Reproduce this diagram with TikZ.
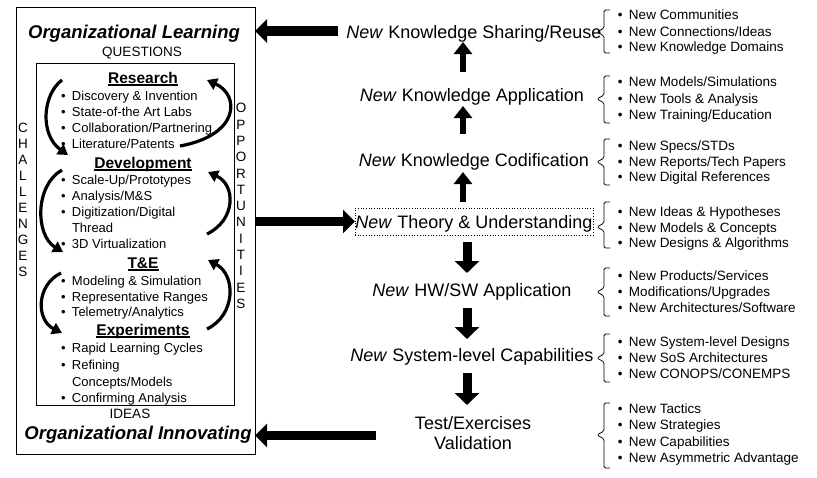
\documentclass[tikz,border=0pt]{standalone}
\usepackage{fontspec}
\setmainfont{Liberation Sans}
\usetikzlibrary{arrows.meta}
\newcommand\litem[3]{\node[litem] (#1) at (72,#2) {\llap{•\hspace{6.3pt}}#3};}
\newcommand\lcont[3]{\node[litem] (#1) at (72,#2) {#3};}
\newcommand\ritem[3]{\node[ritem] (#1) at (629,#2) {\llap{•\hspace{6.5pt}}#3};}
\newcommand\brk[3]{\draw[brk] (610,#1) -- (604,#1) -- (604,#2-4) -- (597,#2) -- (604,#2+4) -- (604,#3) -- (610,#3);}
\newcommand\hul[1]{\setbox0\hbox{#1}\rlap{\rule[-2pt]{\wd0}{1.3pt}}\box0}
\begin{document}
\begin{tikzpicture}[x=1pt,y=-1pt,
  every node/.style={inner sep=0pt,outer sep=0pt},
  litem/.style={font=\fontsize{13}{15}\selectfont,anchor=west,text height=9.4pt,text depth=0pt},
  ritem/.style={font=\fontsize{13.5}{15}\selectfont,anchor=west,text height=9.7pt,text depth=0pt},
  head/.style={font=\fontsize{15.5}{17}\selectfont\bfseries,text height=11.2pt,text depth=0pt},
  title/.style={font=\fontsize{18.5}{20}\selectfont\bfseries\itshape,text height=13.3pt,text depth=0pt},
  capt/.style={font=\fontsize{13.5}{15}\selectfont,text height=9.7pt,text depth=0pt},
  clab/.style={font=\fontsize{18}{20}\selectfont,text height=13pt,text depth=0pt},
  carrow/.style={line width=3.2pt,-{Triangle[length=10pt,width=12pt]}},
  bigarrow/.style={line width=9.5pt,-{Triangle[length=12pt,width=23pt]}},
  uparrow/.style={line width=6pt,-{Triangle[length=12pt,width=18pt]}},
  dnarrow/.style={line width=9pt,-{Triangle[length=12pt,width=24pt]}},
  brk/.style={line width=0.8pt,rounded corners=1.5pt}
]
\useasboundingbox[fill=white] (0,0) rectangle (817,477);

% left boxes
\node[draw,line width=1pt,minimum width=239pt,minimum height=447pt,anchor=north west] (outer) at (16,7) {};
\node[draw,line width=1pt,minimum width=198pt,minimum height=342pt,anchor=north west] (inner) at (36,63) {};

\node[title] (orglearn) at (134,32) {Organizational Learning};
\node[capt] (questions) at (142,52) {QUESTIONS};
\node[capt] (ideas) at (130,414) {IDEAS};
\node[title] (orginnov) at (138,433) {Organizational Innovating};

% side letters
\foreach \l [count=\i from 0] in {C,H,A,L,L,E,N,G,E,S}
  \node[capt] (ch\i) at (23,128+16*\i) {\l};
\foreach \l [count=\i from 0] in {O,P,P,O,R,T,U,N,I,T,I,E,S}
  \node[capt] (op\i) at (241,108+16.3*\i) {\l};

% inner content
\node[head] (research) at (143,78) {\hul{Research}};
\litem{r1}{96}{Discovery \& Invention}
\litem{r2}{112}{State-of-the Art Labs}
\litem{r3}{128}{Collaboration/Partnering}
\litem{r4}{144}{Literature/Patents}
\node[head] (development) at (143,163) {\hul{Development}};
\litem{d1}{180}{Scale-Up/Prototypes}
\litem{d2}{196}{Analysis/M\&S}
\litem{d3}{212}{Digitization/Digital}
\lcont{d3b}{228}{Thread}
\litem{d4}{244}{3D Virtualization}
\node[head] (te) at (143,263) {\hul{T\&E}};
\litem{t1}{281}{Modeling \& Simulation}
\litem{t2}{297}{Representative Ranges}
\litem{t3}{312}{Telemetry/Analytics}
\node[head] (experiments) at (143,330) {\hul{Experiments}};
\litem{e1}{348}{Rapid Learning Cycles}
\litem{e2}{365}{Refining}
\lcont{e2b}{382}{Concepts/Models}
\litem{e3}{398}{Confirming Analysis}

% curved arrows
\draw[carrow] (62,80) .. controls (42,95) and (40,135) .. (68,155);
\draw[carrow] (180,146) .. controls (240,135) and (240,95) .. (207,80);
\draw[carrow] (62,170) .. controls (35,185) and (35,235) .. (63,252);
\draw[carrow] (207,234) .. controls (236,220) and (236,185) .. (208,172);
\draw[carrow] (61,273) .. controls (36,285) and (36,320) .. (62,333);
\draw[carrow] (207,329) .. controls (236,315) and (236,275) .. (208,260);

% centre column
\node[clab] (share) at (474,32) {\textit{New} Knowledge Sharing/Reuse};
\node[clab] (app) at (472,95) {\textit{New} Knowledge Application};
\node[clab] (cod) at (474,160) {\textit{New} Knowledge Codification};
\node[clab,draw,dotted,line width=0.7pt,minimum width=238pt,minimum height=27pt] (theory) at (474,221.5) {\textit{New} Theory \& Understanding};
\node[clab] (hw) at (472,290) {\textit{New} HW/SW Application};
\node[clab] (sys) at (472,355) {\textit{New} System-level Capabilities};
\node[clab] (test) at (473,423) {Test/Exercises};
\node[clab] (testb) at (473,443) {Validation};

% vertical arrows
\coordinate (u1a) at (463,72);  \coordinate (u1b) at (463,42);
\coordinate (u2a) at (463,134); \coordinate (u2b) at (463,106);
\coordinate (u3a) at (463,202); \coordinate (u3b) at (463,172);
\draw[uparrow] (u1a) -- (u1b);
\draw[uparrow] (u2a) -- (u2b);
\draw[uparrow] (u3a) -- (u3b);
\coordinate (d1a) at (467,242); \coordinate (d1b) at (467,273);
\coordinate (d2a) at (467,308); \coordinate (d2b) at (467,339);
\coordinate (d3a) at (467,373); \coordinate (d3b) at (467,405);
\draw[dnarrow] (d1a) -- (d1b);
\draw[dnarrow] (d2a) -- (d2b);
\draw[dnarrow] (d3a) -- (d3b);

% big horizontal arrows
\coordinate (b1) at (338,31);
\draw[bigarrow] (b1) -- (outer.east |- b1);
\draw[bigarrow] (outer.east |- theory.west) -- (theory.west);
\coordinate (b3) at (376,435.5);
\draw[bigarrow] (b3) -- (outer.east |- b3);

% brackets
\brk{10}{32}{53}
\brk{76}{99}{123}
\brk{139}{162}{185}
\brk{202}{227}{248}
\brk{268}{292}{316}
\brk{334}{358}{382}
\brk{403}{435}{468}

% right lists
\ritem{s1}{15}{New Communities}
\ritem{s2}{32}{New Connections/Ideas}
\ritem{s3}{47}{New Knowledge Domains}
\ritem{a1}{82}{New Models/Simulations}
\ritem{a2}{99}{New Tools \& Analysis}
\ritem{a3}{115}{New Training/Education}
\ritem{c1}{146}{New Specs/STDs}
\ritem{c2}{162}{New Reports/Tech Papers}
\ritem{c3}{177}{New Digital References}
\ritem{th1}{212}{New Ideas \& Hypotheses}
\ritem{th2}{228}{New Models \& Concepts}
\ritem{th3}{243}{New Designs \& Algorithms}
\ritem{h1}{276}{New Products/Services}
\ritem{h2}{292}{Modifications/Upgrades}
\ritem{h3}{308}{New Architectures/Software}
\ritem{y1}{342}{New System-level Designs}
\ritem{y2}{358}{New SoS Architectures}
\ritem{y3}{374}{New CONOPS/CONEMPS}
\ritem{v1}{409}{New Tactics}
\ritem{v2}{425}{New Strategies}
\ritem{v3}{442}{New Capabilities}
\ritem{v4}{458}{New Asymmetric Advantage}
\end{tikzpicture}
\end{document}
